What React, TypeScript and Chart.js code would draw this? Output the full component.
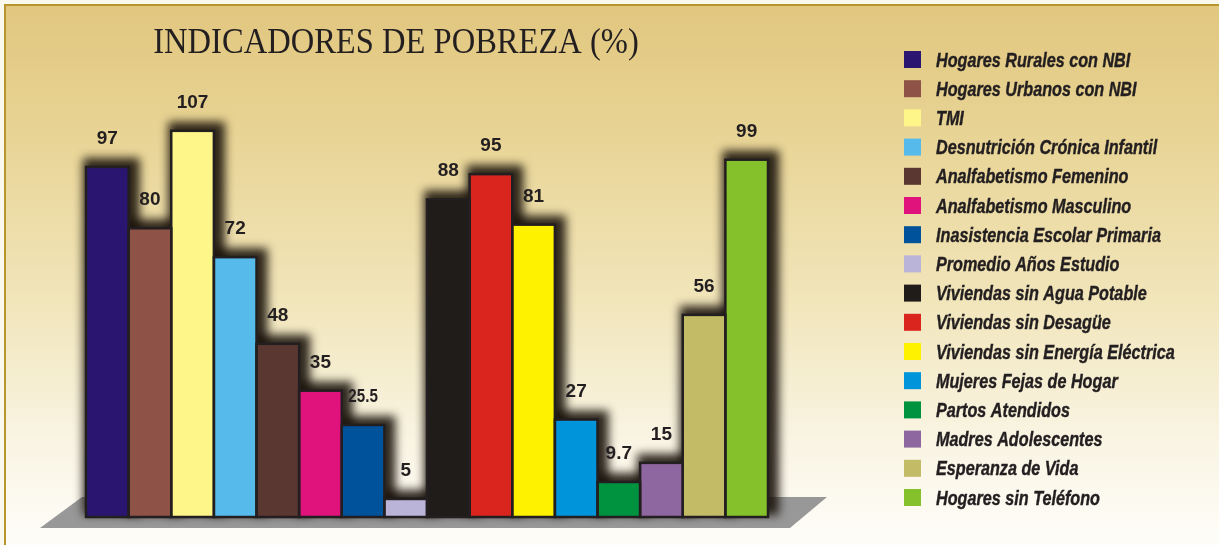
import React, { useEffect, useRef } from "react";
import { Chart, registerables } from "chart.js";

Chart.register(...registerables);

const chartTitle = "INDICADORES DE POBREZA (%)";

const categories = [
  "Hogares Rurales con NBI",
  "Hogares Urbanos con NBI",
  "TMI",
  "Desnutrición Crónica Infantil",
  "Analfabetismo Femenino",
  "Analfabetismo Masculino",
  "Inasistencia Escolar Primaria",
  "Promedio Años Estudio",
  "Viviendas sin Agua Potable",
  "Viviendas sin Desagüe",
  "Viviendas sin Energía Eléctrica",
  "Mujeres Fejas de Hogar",
  "Partos Atendidos",
  "Madres Adolescentes",
  "Esperanza de Vida",
  "Hogares sin Teléfono",
];

const values = [97, 80, 107, 72, 48, 35, 25.5, 5, 88, 95, 81, 27, 9.7, 15, 56, 99];

const valueLabels = ["97", "80", "107", "72", "48", "35", "25.5", "5", "88", "95", "81", "27", "9.7", "15", "56", "99"];

const barColors = [
  "#2A1670",
  "#8E5246",
  "#FFF68A",
  "#56BAEB",
  "#5A3730",
  "#E0127C",
  "#00529B",
  "#BAB4D8",
  "#201C1A",
  "#DA251E",
  "#FFF200",
  "#0095DA",
  "#00933F",
  "#8E67A0",
  "#C4BB67",
  "#85C12A",
];

const W = 1219;
const H = 545;
const INK = "#231F20";

const decorPlugin = {
  id: "decor",
  beforeDraw(chart: any) {
    const ctx = chart.ctx;
    ctx.save();
    const g = ctx.createLinearGradient(0, 0, 0, H);
    g.addColorStop(0, "#E1C67E");
    g.addColorStop(0.25, "#E8D495");
    g.addColorStop(0.55, "#F1E5BA");
    g.addColorStop(0.8, "#F9F4E2");
    g.addColorStop(1, "#FEFDF9");
    ctx.fillStyle = g;
    ctx.fillRect(0, 0, W, H);
    ctx.fillStyle = "#FBF8EE";
    ctx.fillRect(0, 0, 4, H);
    ctx.fillRect(0, 0, W, 4);
    ctx.fillStyle = "#B8962E";
    ctx.fillRect(4, 4, W - 4, 2);
    ctx.fillRect(4, 4, 2, H - 4);

    // title
    ctx.fillStyle = INK;
    ctx.font = '35px "Liberation Serif"';
    ctx.textAlign = "center";
    ctx.textBaseline = "alphabetic";
    ctx.translate(396, 53);
    ctx.scale(0.93, 1);
    ctx.fillText(chartTitle, 0, 0);
    ctx.restore();

    // legend
    ctx.save();
    categories.forEach((name, i) => {
      const top = 51 + i * 29.2;
      ctx.fillStyle = barColors[i];
      ctx.fillRect(904, top, 17, 17);
      ctx.save();
      ctx.translate(936, top + 15.5);
      ctx.scale(0.83, 1);
      ctx.fillStyle = INK;
      ctx.font = 'bold italic 19.5px "Liberation Sans"';
      ctx.textAlign = "left";
      ctx.textBaseline = "alphabetic";
      ctx.fillText(name, 0, 0);
      ctx.strokeStyle = INK;
      ctx.lineWidth = 0.4;
      ctx.strokeText(name, 0, 0);
      ctx.restore();
    });
    ctx.restore();
  },
  beforeDatasetsDraw(chart: any) {
    const ctx = chart.ctx;
    const area = chart.chartArea;
    ctx.save();
    // floor
    ctx.fillStyle = "#989898";
    ctx.beginPath();
    ctx.moveTo(area.left - 4, area.bottom - 20);
    ctx.lineTo(area.right + 59, area.bottom - 20);
    ctx.lineTo(area.right + 22, area.bottom + 11);
    ctx.lineTo(area.left - 46, area.bottom + 11);
    ctx.closePath();
    ctx.fill();
    // soft dark glow behind bars
    const meta = chart.getDatasetMeta(0);
    ctx.filter = "blur(5px)";
    ctx.fillStyle = "rgba(25,18,10,0.9)";
    meta.data.forEach((el: any) => {
      const { x, y, base, width } = el.getProps(["x", "y", "base", "width"], true);
      ctx.fillRect(x - width / 2 - 3, y - 9, width + 14, base - y + 7);
    });
    ctx.filter = "none";
    ctx.restore();
  },
  afterDatasetsDraw(chart: any) {
    const ctx = chart.ctx;
    const meta = chart.getDatasetMeta(0);
    ctx.save();
    ctx.strokeStyle = INK;
    ctx.lineWidth = 2.5;
    meta.data.forEach((el: any) => {
      const { x, y, base, width } = el.getProps(["x", "y", "base", "width"], true);
      ctx.strokeRect(x - width / 2, y, width, base - y);
    });
    // value labels
    ctx.fillStyle = INK;
    ctx.font = 'bold 19px "Liberation Sans"';
    ctx.textAlign = "center";
    ctx.textBaseline = "alphabetic";
    meta.data.forEach((el: any, i: number) => {
      const { x, y } = el.getProps(["x", "y"], true);
      const txt = valueLabels[i];
      ctx.save();
      ctx.translate(x, y - 23);
      if (txt.length >= 4) ctx.scale(0.8, 1);
      ctx.fillText(txt, 0, 0);
      ctx.restore();
    });
    ctx.restore();
  },
};

export default function App() {
  const ref = useRef<HTMLCanvasElement | null>(null);
  useEffect(() => {
    if (!ref.current) return;
    const chart = new Chart(ref.current, {
      type: "bar",
      data: {
        labels: categories,
        datasets: [
          {
            data: values,
            backgroundColor: barColors,
            borderWidth: 0,
            barPercentage: 1,
            categoryPercentage: 1,
          },
        ],
      },
      options: {
        animation: false,
        responsive: false,
        devicePixelRatio: 1,
        layout: { padding: { left: 86, right: W - 768, top: 120, bottom: H - 517 } },
        scales: {
          x: { display: false },
          y: { display: false, min: 0, max: 110 },
        },
        plugins: {
          legend: { display: false },
          tooltip: { enabled: false },
          title: { display: false },
        },
      },
      plugins: [decorPlugin],
    });
    return () => chart.destroy();
  }, []);
  return (
    <div style={{ position: "fixed", left: 0, top: 0, width: W, height: H }}>
      <canvas ref={ref} width={W} height={H} style={{ display: "block", width: W, height: H }} />
    </div>
  );
}
